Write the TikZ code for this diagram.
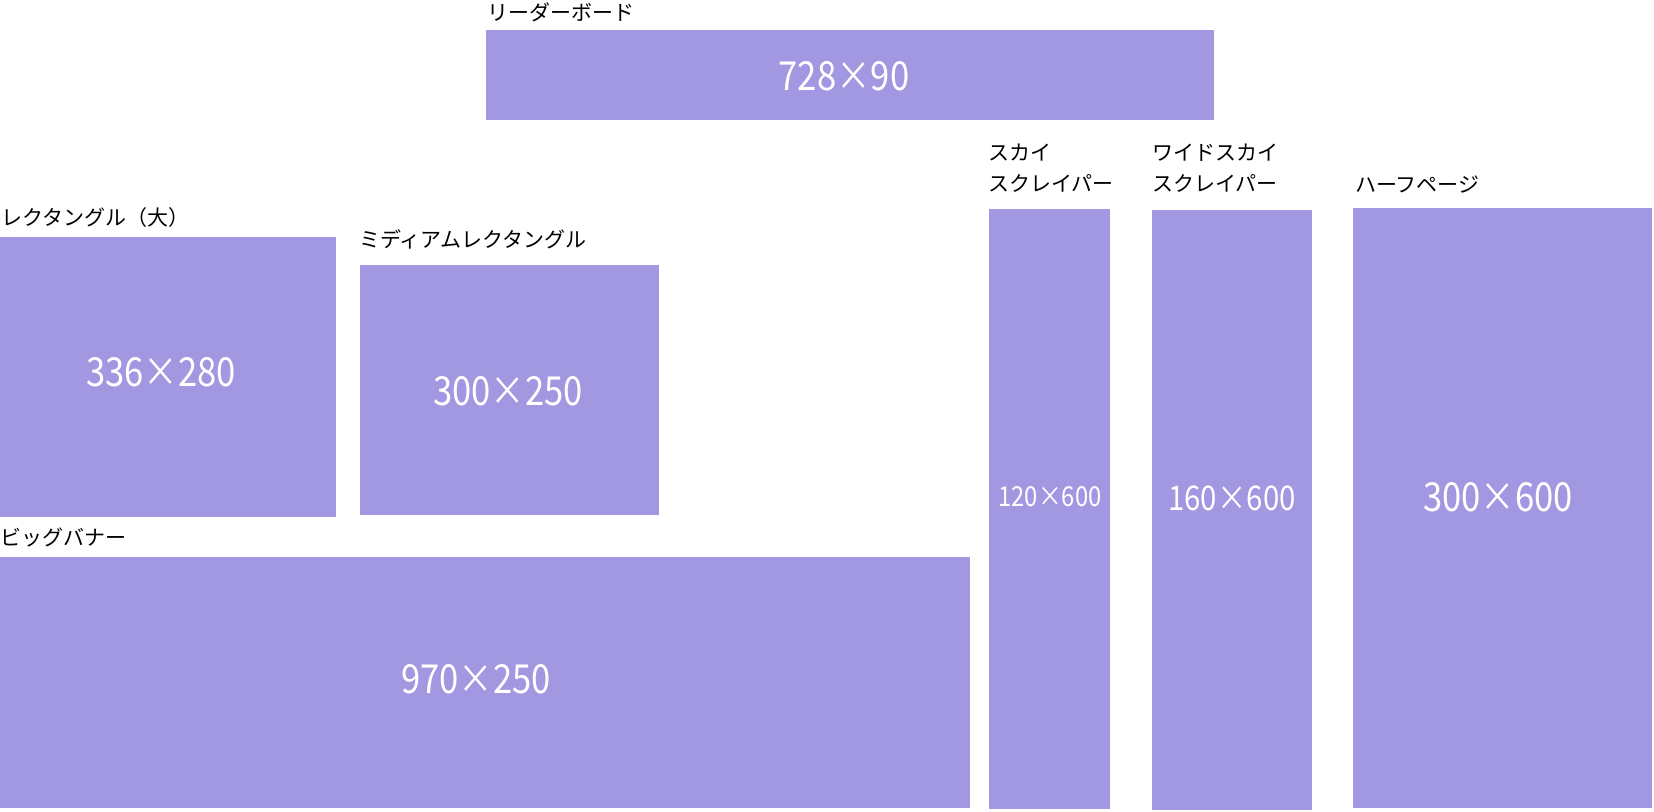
\documentclass[tikz,border=0pt]{standalone}
\usepackage{fontspec}
\usepackage{graphicx}
\setmainfont{Noto Sans CJK JP}
\definecolor{adfill}{HTML}{A198E1}
\tikzset{
  adbox/.style={fill=adfill, draw=none, inner sep=0pt, outer sep=0pt, anchor=north west},
  adlabel/.style={anchor=west, inner sep=0pt, text=black, font=\fontsize{21}{25}\selectfont, text height=0.88em, text depth=0.12em},
  adnum/.style={text=white, inner sep=0pt, anchor=center, font=\fontsize{#1}{#1}\selectfont},
  adnum/.default=40
}
\newcommand{\nrw}[1]{\scalebox{0.865}[1]{#1}}
\begin{document}
\begin{tikzpicture}[x=1pt,y=-1pt]
\useasboundingbox (0,0) rectangle (1654,811);
% boxes
\node[adbox, minimum width=728pt, minimum height=90pt] (lb) at (486,30) {};
\node[adbox, minimum width=336pt, minimum height=280pt] (lr) at (0,237) {};
\node[adbox, minimum width=299pt, minimum height=250pt] (mr) at (360,265) {};
\node[adbox, minimum width=970pt, minimum height=251pt] (bb) at (0,557) {};
\node[adbox, minimum width=121pt, minimum height=600pt] (sk) at (989,209) {};
\node[adbox, minimum width=160pt, minimum height=600pt] (wsk) at (1152,210) {};
\node[adbox, minimum width=299pt, minimum height=600pt] (hp) at (1353,208) {};
% sizes
\node[adnum] (lbt) at (844,76) {\nrw{728×90}};
\node[adnum] (lrt) at (161,372) {\nrw{336×280}};
\node[adnum] (mrt) at (508,391) {\nrw{300×250}};
\node[adnum] (bbt) at (476,679) {\nrw{970×250}};
\node[adnum=27.5] (skt) at (1050,497) {\nrw{120×600}};
\node[adnum=34] (wskt) at (1232,498) {\nrw{160×600}};
\node[adnum] (hpt) at (1498,497) {\nrw{300×600}};
% labels
\node[adlabel] (lbl) at (487,17) {リーダーボード};
\node[adlabel] (lrl) at (1,222) {レクタングル（大）};
\node[adlabel] (mrl) at (359,244) {ミディアムレクタングル};
\node[adlabel] (bbl) at (0,542) {ビッグバナー};
\node[adlabel] (skl1) at (988,157) {スカイ};
\node[adlabel] (skl2) at (988,187.5) {スクレイパー};
\node[adlabel] (wskl1) at (1152,157) {ワイドスカイ};
\node[adlabel] (wskl2) at (1152,187.5) {スクレイパー};
\node[adlabel] (hpl) at (1355,188.5) {ハーフページ};
\end{tikzpicture}
\end{document}
